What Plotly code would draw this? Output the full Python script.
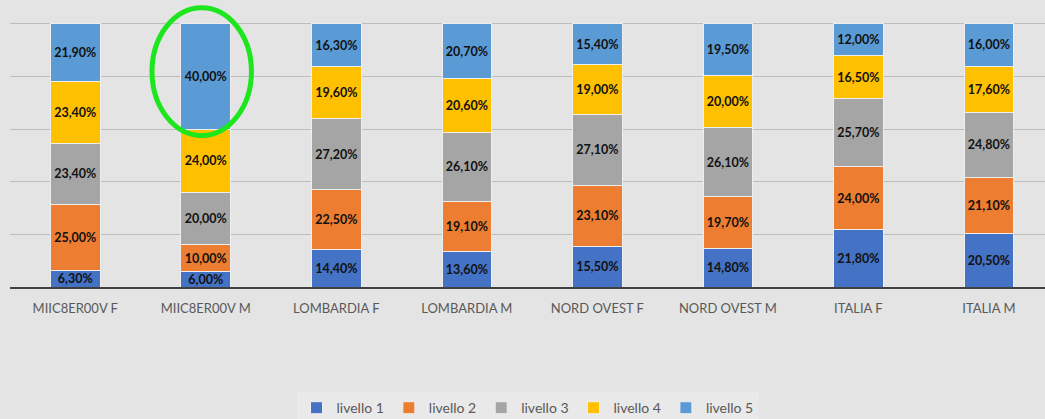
import plotly.graph_objects as go

categories = ["MIIC8ER00V F", "MIIC8ER00V M", "LOMBARDIA F", "LOMBARDIA M",
              "NORD OVEST F", "NORD OVEST M", "ITALIA F", "ITALIA M"]
livello_1 = [6.3, 6.0, 14.4, 13.6, 15.5, 14.8, 21.8, 20.5]
livello_2 = [25.0, 10.0, 22.5, 19.1, 23.1, 19.7, 24.0, 21.1]
livello_3 = [23.4, 20.0, 27.2, 26.1, 27.1, 26.1, 25.7, 24.8]
livello_4 = [23.4, 24.0, 19.6, 20.6, 19.0, 20.0, 16.5, 17.6]
livello_5 = [21.9, 40.0, 16.3, 20.7, 15.4, 19.5, 12.0, 16.0]
series_names = ["livello 1", "livello 2", "livello 3", "livello 4", "livello 5"]
series_values = [livello_1, livello_2, livello_3, livello_4, livello_5]
colors = ["#4472C4", "#ED7D31", "#A5A5A5", "#FFC000", "#5B9BD5"]

FONT = "Lato, Open Sans, sans-serif"

def fmt(v):
    return f"{v:.2f}".replace(".", ",") + "%"

fig = go.Figure()
for name, vals, col in zip(series_names, series_values, colors):
    fig.add_trace(go.Bar(
        name=name, x=list(range(len(categories))), y=vals,
        marker=dict(color=col, line=dict(color="#eeeeee", width=1)),
        text=[fmt(v) for v in vals], textposition="inside", textangle=0,
        insidetextanchor="middle", texttemplate="<b>%{text}</b>",
        textfont=dict(family=FONT, size=12.5, color="#111111"),
        width=0.38,
    ))

fig.update_layout(
    barmode="stack", barnorm="percent",
    width=1045, height=419,
    margin=dict(l=10, r=0, t=0, b=132, autoexpand=False),
    paper_bgcolor="#e4e4e4", plot_bgcolor="rgba(0,0,0,0)",
    font=dict(family=FONT, color="#595959", size=13),
    uniformtext=dict(mode="show", minsize=12.5),
    legend=dict(orientation="h", x=0.5, xanchor="center",
                yref="container", y=0.026, yanchor="middle",
                bgcolor="#e9e9e9", font=dict(size=14, color="#595959"),
                traceorder="normal", itemwidth=30),
    xaxis=dict(range=[-0.5, 7.43], tickmode="array",
               tickvals=list(range(len(categories))), ticktext=categories,
               showgrid=False, showline=True, linecolor="#404040", linewidth=2,
               ticks="", ticklabelstandoff=8, automargin=False,
               tickfont=dict(size=13, color="#595959"), fixedrange=True),
    yaxis=dict(range=[0, 109.1], tickvals=[0, 20, 40, 60, 80, 100],
               showticklabels=False, showgrid=True, gridcolor="#bdbdbd",
               gridwidth=1, zeroline=False, fixedrange=True, automargin=False),
    showlegend=True,
)

fig.add_shape(type="circle", xref="x", yref="y",
              x0=0.588, x1=1.35, y0=57.6, y1=106.2,
              line=dict(color="#1EE61E", width=5), layer="above")

fig.write_html("out.html", config={"displayModeBar": False},
               post_script="document.body.style.margin='0';"
                           "document.body.style.background='#e4e4e4';")
